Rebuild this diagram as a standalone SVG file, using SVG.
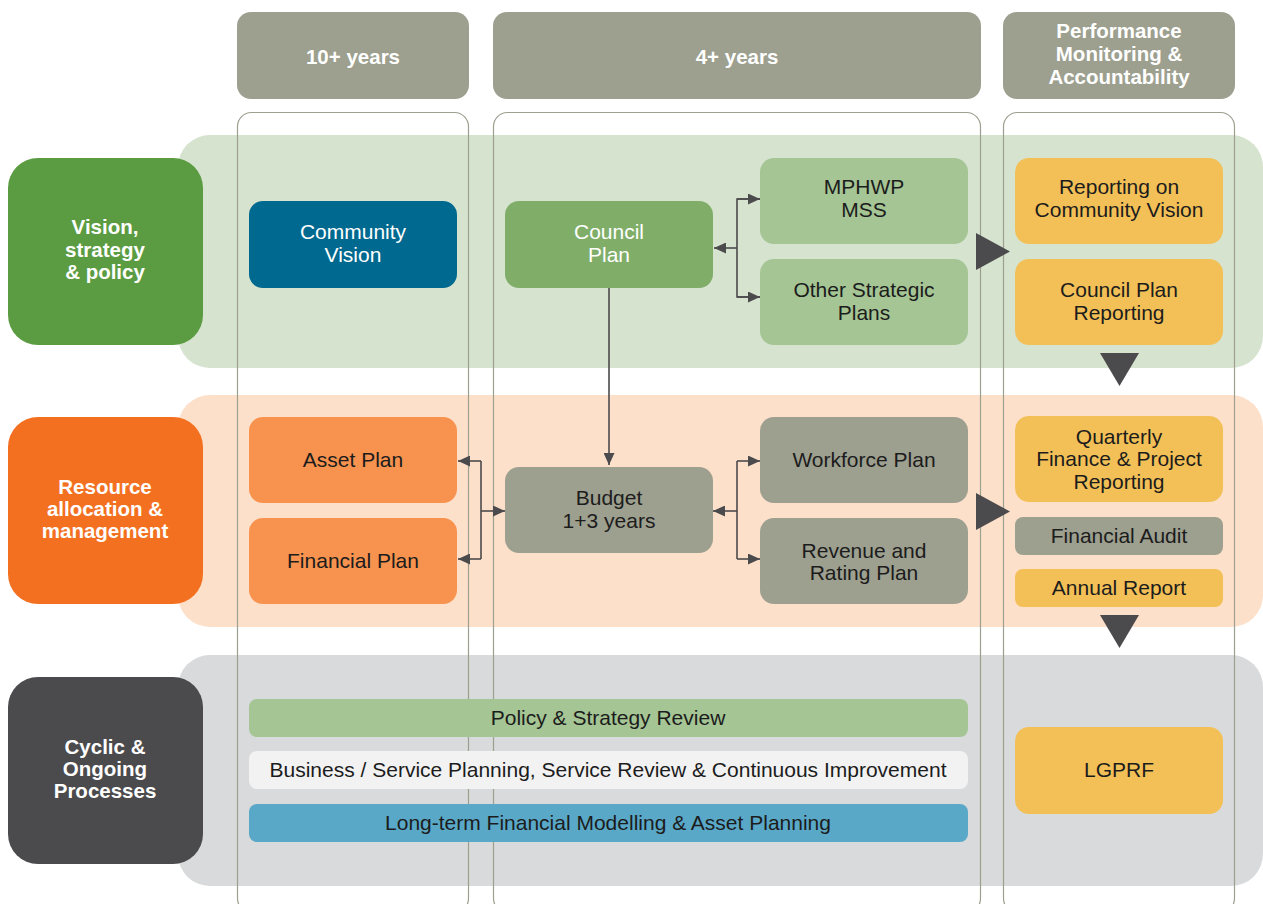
<svg xmlns="http://www.w3.org/2000/svg" width="1263" height="904" viewBox="0 0 1263 904">
<defs>
<style>
text{font-family:"Liberation Sans",Arial,Helvetica,sans-serif;font-size:21px;text-anchor:middle;fill:#1c1c1c}
.w{fill:#ffffff}
.b{font-weight:bold;fill:#ffffff;font-size:20.5px}
.hdr{fill:#9d9f8f}
.col{fill:none;stroke:#9d9f8f;stroke-width:1.2}
.lg{fill:#a5c594}
.ye{fill:#f3c057}
.or{fill:#f7924f}
.gr{fill:#9d9f8f}
.con{fill:none;stroke:#4b4a4c;stroke-width:1.6}
.tri{fill:#4b4a4c}
</style>
<marker id="ah" markerUnits="userSpaceOnUse" markerWidth="13" markerHeight="11" refX="12" refY="5.5" orient="auto">
<path d="M0,0 L12,5.5 L0,11 z" fill="#4b4a4c"/>
</marker>
</defs>
<rect width="1263" height="904" fill="#ffffff"/>

<g id="headers">
<rect class="hdr" x="237" y="12" width="232" height="87" rx="14"/>
<text class="b" x="353" y="64">10+ years</text>
<rect class="hdr" x="493" y="12" width="488" height="87" rx="14"/>
<text class="b" x="737" y="64">4+ years</text>
<rect class="hdr" x="1003" y="12" width="232" height="87" rx="14"/>
<text class="b" x="1119" y="38">Performance</text>
<text class="b" x="1119" y="61">Monitoring &amp;</text>
<text class="b" x="1119" y="84">Accountability</text>
</g>

<g id="bands">
<rect x="178" y="135" width="1085" height="233" rx="32" fill="#d6e3cf"/>
<rect x="178" y="395" width="1085" height="232" rx="32" fill="#fde0ca"/>
<rect x="178" y="655" width="1085" height="231" rx="32" fill="#d9dadb"/>
</g>

<g id="columns">
<rect class="col" x="237.5" y="112.5" width="231" height="800" rx="14"/>
<rect class="col" x="493.5" y="112.5" width="487" height="800" rx="14"/>
<rect class="col" x="1003.5" y="112.5" width="231" height="800" rx="14"/>
</g>

<g id="row-labels">
<g id="vision-label">
<rect x="8" y="158" width="195" height="187" rx="30" fill="#5b9c42"/>
<text class="b" x="105" y="234">Vision,</text>
<text class="b" x="105" y="257">strategy</text>
<text class="b" x="105" y="279">&amp; policy</text>
</g>
<g id="resource-label">
<rect x="8" y="417" width="195" height="187" rx="30" fill="#f37021"/>
<text class="b" x="105" y="494">Resource</text>
<text class="b" x="105" y="516">allocation &amp;</text>
<text class="b" x="105" y="538">management</text>
</g>
<g id="cyclic-label">
<rect x="8" y="677" width="195" height="187" rx="30" fill="#4b4a4c"/>
<text class="b" x="105" y="754">Cyclic &amp;</text>
<text class="b" x="105" y="776">Ongoing</text>
<text class="b" x="105" y="798">Processes</text>
</g>
</g>

<g id="connectors">
<line class="con" x1="609" y1="288" x2="609" y2="465" marker-end="url(#ah)" stroke-width="2"/>
<path class="con" d="M737,248 L714,248" marker-end="url(#ah)"/>
<path class="con" d="M760,199 L737,199 L737,297 L760,297"/>
<path class="con" d="M737,199 L760,199" marker-end="url(#ah)"/>
<path class="con" d="M737,297 L760,297" marker-end="url(#ah)"/>
<path class="con" d="M481,511 L505,511" marker-end="url(#ah)"/>
<path class="con" d="M481,461 L481,559"/>
<path class="con" d="M481,461 L458,461" marker-end="url(#ah)"/>
<path class="con" d="M481,559 L458,559" marker-end="url(#ah)"/>
<path class="con" d="M737,511 L713,511" marker-end="url(#ah)"/>
<path class="con" d="M737,461 L737,559"/>
<path class="con" d="M737,461 L760,461" marker-end="url(#ah)"/>
<path class="con" d="M737,559 L760,559" marker-end="url(#ah)"/>
<polygon class="tri" points="976,233 1010,251.5 976,270"/>
<polygon class="tri" points="976,493 1010,511.5 976,530"/>
<polygon class="tri" points="1100,353 1139,353 1119.5,386"/>
<polygon class="tri" points="1100,615 1139,615 1119.5,648"/>
</g>

<g id="community-vision">
<rect x="249" y="201" width="208" height="87" rx="14" fill="#00698f"/>
<text class="w" x="353" y="239">Community</text>
<text class="w" x="353" y="262">Vision</text>
</g>
<g id="council-plan">
<rect x="505" y="201" width="208" height="87" rx="14" fill="#80ae69"/>
<text class="w" x="609" y="239">Council</text>
<text class="w" x="609" y="262">Plan</text>
</g>
<g id="mphwp">
<rect class="lg" x="760" y="158" width="208" height="86" rx="14"/>
<text x="864" y="194">MPHWP</text>
<text x="864" y="217">MSS</text>
</g>
<g id="other-strategic">
<rect class="lg" x="760" y="259" width="208" height="86" rx="14"/>
<text x="864" y="297">Other Strategic</text>
<text x="864" y="320">Plans</text>
</g>
<g id="reporting-vision">
<rect class="ye" x="1015" y="158" width="208" height="86" rx="14"/>
<text x="1119" y="194">Reporting on</text>
<text x="1119" y="217">Community Vision</text>
</g>
<g id="council-plan-reporting">
<rect class="ye" x="1015" y="259" width="208" height="86" rx="14"/>
<text x="1119" y="297">Council Plan</text>
<text x="1119" y="320">Reporting</text>
</g>
<g id="asset-plan">
<rect class="or" x="249" y="417" width="208" height="86" rx="14"/>
<text x="353" y="467">Asset Plan</text>
</g>
<g id="financial-plan">
<rect class="or" x="249" y="518" width="208" height="86" rx="14"/>
<text x="353" y="568">Financial Plan</text>
</g>
<g id="budget">
<rect class="gr" x="505" y="467" width="208" height="86" rx="14"/>
<text x="609" y="505">Budget</text>
<text x="609" y="528">1+3 years</text>
</g>
<g id="workforce-plan">
<rect class="gr" x="760" y="417" width="208" height="86" rx="14"/>
<text x="864" y="467">Workforce Plan</text>
</g>
<g id="revenue-plan">
<rect class="gr" x="760" y="518" width="208" height="86" rx="14"/>
<text x="864" y="558">Revenue and</text>
<text x="864" y="580">Rating Plan</text>
</g>
<g id="quarterly">
<rect class="ye" x="1015" y="416" width="208" height="86" rx="14"/>
<text x="1119" y="444">Quarterly</text>
<text x="1119" y="466">Finance &amp; Project</text>
<text x="1119" y="489">Reporting</text>
</g>
<g id="financial-audit">
<rect class="gr" x="1015" y="517" width="208" height="38" rx="8"/>
<text x="1119" y="543">Financial Audit</text>
</g>
<g id="annual-report">
<rect class="ye" x="1015" y="569" width="208" height="38" rx="8"/>
<text x="1119" y="595">Annual Report</text>
</g>
<g id="lgprf">
<rect class="ye" x="1015" y="727" width="208" height="87" rx="14"/>
<text x="1119" y="777">LGPRF</text>
</g>
<g id="policy-review">
<rect class="lg" x="249" y="699" width="719" height="38" rx="8"/>
<text x="608" y="725">Policy &amp; Strategy Review</text>
</g>
<g id="business-planning">
<rect x="249" y="751" width="719" height="38" rx="8" fill="#f2f2f2"/>
<text x="608" y="777">Business / Service Planning, Service Review &amp; Continuous Improvement</text>
</g>
<g id="financial-modelling">
<rect x="249" y="804" width="719" height="38" rx="8" fill="#59a8c8"/>
<text x="608" y="830">Long-term Financial Modelling &amp; Asset Planning</text>
</g>
</svg>
